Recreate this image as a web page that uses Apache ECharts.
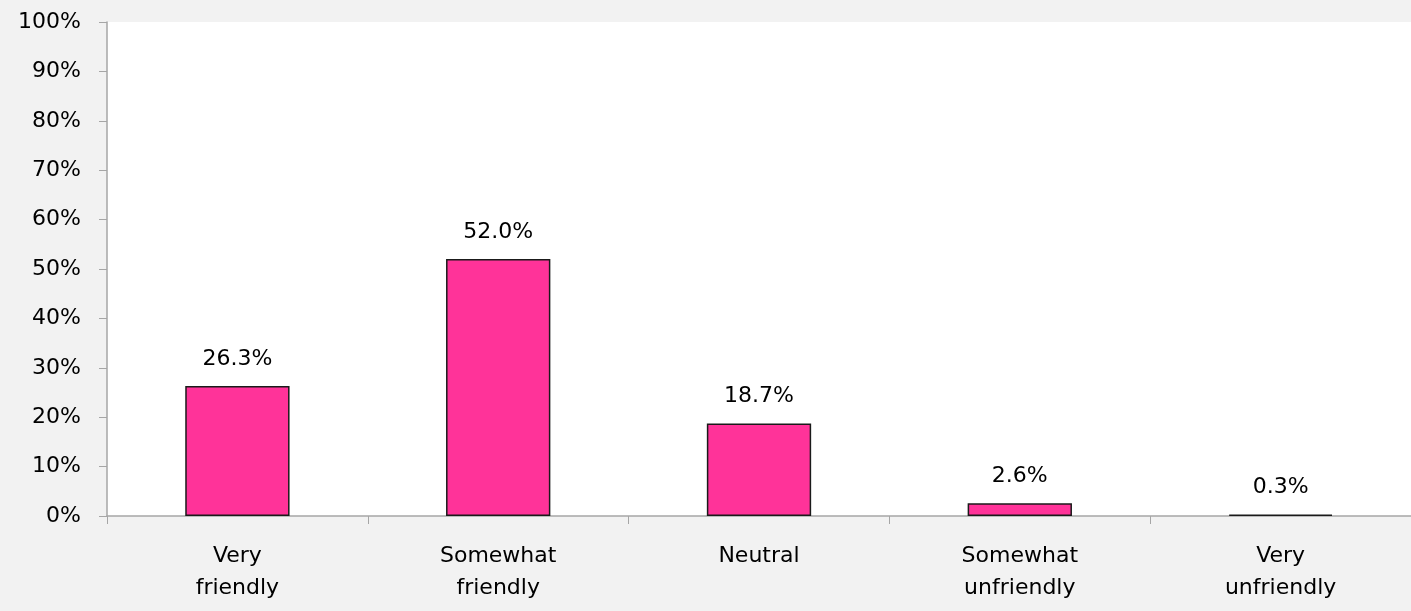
<!DOCTYPE html>
<html><head><meta charset="utf-8">
<script src="https://cdn.jsdelivr.net/npm/echarts@6/dist/echarts.min.js"></script>
<style>html,body{margin:0;padding:0;background:#f2f2f2;}#c{width:1411px;height:611px;}</style>
</head><body><div id="c"></div>
<script>
const categories = ['Very\nfriendly', 'Somewhat\nfriendly', 'Neutral', 'Somewhat\nunfriendly', 'Very\nunfriendly'];
const values = [26.3, 52.0, 18.7, 2.6, 0.3];
const FONT = 'DejaVu Sans';
const chart = echarts.init(document.getElementById('c'));
chart.setOption({
  backgroundColor: '#f2f2f2',
  animation: false,
  grid: {left: 107, right: 0, top: 22, bottom: 95, show: true, backgroundColor: '#ffffff', borderWidth: 0},
  xAxis: {
    type: 'category', data: categories,
    axisLine: {lineStyle: {color: '#a6a6a6', width: 1.5}},
    axisTick: {show: true, length: 8, lineStyle: {color: '#a6a6a6', width: 1}},
    axisLabel: {color: '#000', fontFamily: FONT, fontSize: 22, lineHeight: 32, margin: 24}
  },
  yAxis: {
    type: 'value', min: 0, max: 100, interval: 10,
    axisLine: {show: true, lineStyle: {color: '#a6a6a6', width: 1.5}},
    axisTick: {show: true, length: 8, lineStyle: {color: '#a6a6a6', width: 1}},
    splitLine: {show: false},
    axisLabel: {color: '#000', fontFamily: FONT, fontSize: 22, margin: 26, formatter: '{value}%'}
  },
  series: [{
    type: 'bar', data: values, barWidth: '40%',
    itemStyle: {color: '#ff3399', borderColor: '#1a1a1a', borderWidth: 1.5},
    label: {show: true, position: 'top', distance: 16, color: '#000', fontFamily: FONT, fontSize: 22,
      formatter: p => p.value.toFixed(1) + '%'}
  }]
});
</script></body></html>
